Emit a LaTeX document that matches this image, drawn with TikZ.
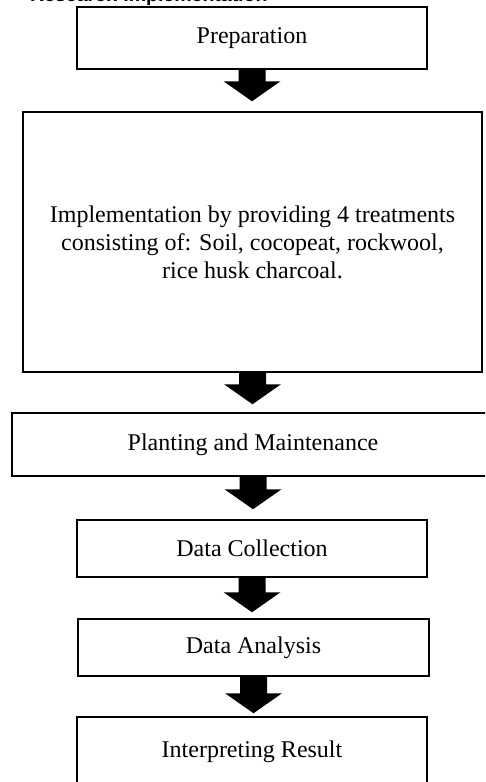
\documentclass[tikz,border=0pt]{standalone}
\usepackage{fontspec}
\setmainfont{Liberation Serif}
\newfontfamily\titlefont{Liberation Sans}
\usetikzlibrary{calc}
\tikzset{
  stepbox/.style={draw=black, line width=1.5pt, rectangle, align=center,
    font=\fontsize{24}{28}\selectfont, inner sep=0pt},
}
\newcommand{\blockarrow}[3]{%
  \fill[black] let \p1=(#1.south), \p2=(#2.north) in
    (\x1-13.5pt,\y1) -- (\x1-13.5pt,\y2+#3pt+20pt) -- (\x1-28.5pt,\y2+#3pt+20pt)
    -- (\x1,\y2+#3pt) -- (\x1+28.5pt,\y2+#3pt+20pt) -- (\x1+13.5pt,\y2+#3pt+20pt)
    -- (\x1+13.5pt,\y1) -- cycle;}
\begin{document}
\begin{tikzpicture}[x=1pt,y=-1pt]
\useasboundingbox (0,0) rectangle (485,782);
\clip (0,0) rectangle (485,782);
\fill[white] (0,0) rectangle (485,782);
\node[anchor=base west, font=\titlefont\bfseries\fontsize{19.5}{22}\selectfont, inner sep=0pt] (title) at (30,1) {Research Implementation};
\node[stepbox, minimum width=350pt, minimum height=62pt] (prep) at (252,38) {Preparation};
\node[stepbox, minimum width=459pt, minimum height=260pt] (impl) at (252.5,242) {Implementation by providing 4 treatments\\consisting of: Soil, cocopeat, rockwool,\\rice husk charcoal.};
\node[stepbox, minimum width=482pt, minimum height=63pt] (plant) at (253,444.5) {Planting and Maintenance};
\node[stepbox, minimum width=350pt, minimum height=57pt] (coll) at (252,548.5) {Data Collection};
\node[stepbox, minimum width=351pt, minimum height=57pt] (anal) at (253.5,647.5) {Data Analysis};
\node[stepbox, minimum width=350pt, minimum height=70pt] (interp) at (252,752) {Interpreting Result};
\blockarrow{prep}{impl}{10}
\blockarrow{impl}{plant}{8}
\blockarrow{plant}{coll}{10}
\blockarrow{coll}{anal}{6}
\blockarrow{anal}{interp}{3}
\end{tikzpicture}
\end{document}
